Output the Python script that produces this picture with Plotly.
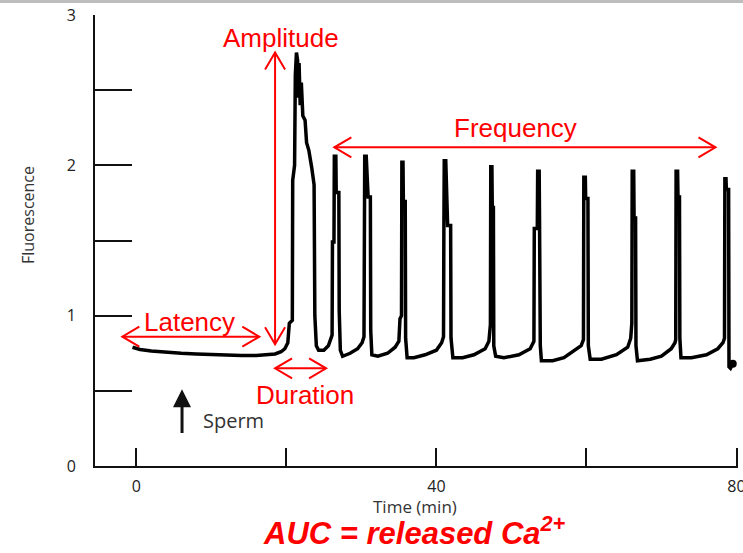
import plotly.graph_objects as go

# ---------------- data ----------------
time_min = [-0.5, 0.5, 2.0, 4.0, 6.0, 8.0, 10.0, 12.0, 14.0, 16.0, 17.5, 18.5, 19.3, 19.8,
            20.2, 20.4, 20.8, 20.85, 21.1, 21.2, 21.35, 21.5, 21.55, 21.7, 21.85, 22.0, 22.2,
            22.5, 22.7, 23.0, 23.4, 23.7, 23.8, 24.0, 24.3, 25.0, 25.6, 25.9, 26.1, 26.15,
            26.35, 26.4, 26.6, 26.65, 27.0, 27.05, 27.2, 27.5, 28.5, 29.5, 30.1, 30.35, 30.4,
            30.45, 30.65, 30.7, 30.9, 31.2, 31.25, 31.4, 32.2, 33.5, 34.5, 35.0, 35.15, 35.35,
            35.4, 35.55, 35.6, 35.85, 35.9, 36.1, 37.0, 38.5, 40.0, 40.7, 40.95, 41.0, 41.05,
            41.25, 41.3, 41.5, 41.9, 41.95, 42.2, 43.5, 45.0, 46.5, 47.0, 47.1, 47.2, 47.25,
            47.4, 47.45, 47.6, 47.65, 47.9, 49.0, 51.0, 52.5, 53.0, 53.05, 53.45, 53.5, 53.7,
            53.75, 53.85, 54.0, 55.5, 57.0, 58.5, 59.3, 59.6, 59.65, 59.85, 59.9, 60.2, 60.25,
            60.5, 62.0, 64.0, 65.5, 65.9, 65.95, 66.05, 66.1, 66.3, 66.35, 66.55, 66.6, 66.8,
            68.5, 70.0, 71.3, 71.8, 71.9, 71.95, 72.15, 72.2, 72.4, 72.45, 72.6, 74.0, 76.0,
            77.5, 78.2, 78.4, 78.45, 78.6, 78.65, 78.95, 79.0, 79.2, 79.5]
fluor = [0.79, 0.775, 0.765, 0.755, 0.75, 0.745, 0.74, 0.74, 0.735, 0.735, 0.74, 0.745, 0.76, 0.78,
         0.82, 0.95, 0.97, 1.9, 2.0, 2.6, 2.75, 2.7, 2.45, 2.68, 2.4, 2.55, 2.33,
         2.3, 2.15, 2.1, 1.98, 1.87, 1.0, 0.8, 0.77, 0.77, 0.8, 0.84, 0.87, 1.49,
         1.49, 2.06, 2.06, 1.82, 1.82, 1.03, 0.77, 0.73, 0.75, 0.78, 0.82, 0.86, 1.78,
         2.06, 2.06, 1.98, 1.79, 1.79, 0.9, 0.74, 0.73, 0.75, 0.79, 0.83, 0.98, 1.0,
         2.02, 2.02, 1.76, 1.76, 0.85, 0.72, 0.72, 0.74, 0.77, 0.82, 0.86, 1.6, 2.03,
         2.03, 1.91, 1.6, 1.6, 0.85, 0.72, 0.72, 0.74, 0.78, 0.83, 0.93, 0.94, 1.99,
         1.99, 1.72, 1.72, 0.8, 0.73, 0.72, 0.74, 0.78, 0.83, 1.58, 1.58, 1.96, 1.96,
         1.62, 0.8, 0.70, 0.70, 0.72, 0.77, 0.80, 0.84, 1.92, 1.92, 1.78, 1.78, 0.8,
         0.71, 0.71, 0.74, 0.79, 0.85, 0.95, 0.95, 1.96, 1.96, 1.65, 1.65, 0.8, 0.70,
         0.71, 0.73, 0.78, 0.82, 0.84, 1.96, 1.96, 1.79, 1.79, 0.85, 0.72, 0.72, 0.74,
         0.78, 0.82, 0.85, 1.91, 1.91, 1.84, 1.84, 0.66, 0.65, 0.68]

x_tick_vals = [0, 20, 40, 60, 80]
x_tick_text = ["0", "", "40", "", "80"]
y_tick_vals = [0, 0.5, 1, 1.5, 2, 2.5, 3]
y_tick_text = ["0", "", "1", "", "2", "", "3"]

# ---------------- layout geometry ----------------
W, H = 743, 553
M = dict(l=95, r=5, t=15, b=87)
X_RANGE = [-5.5, 80.2]
Y_RANGE = [0, 3]
PW = W - M["l"] - M["r"]
PH = H - M["t"] - M["b"]
XPX = (X_RANGE[1] - X_RANGE[0]) / PW   # data units per pixel
YPX = (Y_RANGE[1] - Y_RANGE[0]) / PH

RED = "#ff0000"
shapes = []
annotations = []


def head(tx, ty, dx, dy, back=17, side=10):
    """open V arrow head at tip (tx, ty); (dx, dy) unit pixel direction tail->tip"""
    px, py = -dy, dx
    p1 = (tx + (-back * dx + side * px) * XPX, ty + (-back * dy + side * py) * YPX)
    p2 = (tx + (-back * dx - side * px) * XPX, ty + (-back * dy - side * py) * YPX)
    shapes.append(dict(type="path", xref="x", yref="y",
                       path=f"M {p1[0]},{p1[1]} L {tx},{ty} L {p2[0]},{p2[1]}",
                       line=dict(color=RED, width=2)))


def double_arrow(x0, y0, x1, y1):
    shapes.append(dict(type="line", xref="x", yref="y", x0=x0, y0=y0, x1=x1, y1=y1,
                       line=dict(color=RED, width=2)))
    ddx = (x1 - x0) / XPX
    ddy = (y1 - y0) / YPX
    n = (ddx ** 2 + ddy ** 2) ** 0.5
    ux, uy = ddx / n, ddy / n
    head(x1, y1, ux, uy)
    head(x0, y0, -ux, -uy)


double_arrow(18.5, 0.81, 18.5, 2.75)     # amplitude
double_arrow(26.4, 2.12, 77.2, 2.12)     # frequency
double_arrow(-1.86, 0.86, 16.4, 0.86)    # latency
double_arrow(18.5, 0.65, 25.3, 0.65)     # duration

red_font = dict(family="Liberation Sans, Arial, sans-serif", size=26, color=RED)
for txt, x, y in [("Amplitude", 19.3, 2.85), ("Frequency", 50.6, 2.25),
                  ("Latency", 7.06, 0.96), ("Duration", 22.5, 0.47)]:
    annotations.append(dict(x=x, y=y, xref="x", yref="y", text=txt, showarrow=False,
                            font=red_font, xanchor="center", yanchor="middle"))

# sperm arrow + label
annotations.append(dict(x=6.1, y=0.51, ax=6.1, ay=0.21, xref="x", yref="y", axref="x", ayref="y",
                        text="", showarrow=True, arrowhead=2, arrowsize=1.2, arrowwidth=3,
                        arrowcolor="#111111"))
annotations.append(dict(x=8.65, y=0.30, xref="x", yref="y", text="Sperm", showarrow=False,
                        font=dict(family="Open Sans, sans-serif", size=20, color="#333333"),
                        xanchor="left", yanchor="middle"))

# axis titles
annotations.append(dict(x=(28 - M["l"]) / PW, y=(466 - 215) / PH, xref="paper", yref="paper",
                        text="Fluorescence", textangle=-90, showarrow=False,
                        font=dict(family="Open Sans, sans-serif", size=16, color="#333333"),
                        xanchor="center", yanchor="middle"))
annotations.append(dict(x=(415 - M["l"]) / PW, y=(466 - 507) / PH, xref="paper", yref="paper",
                        text="Time (min)", showarrow=False,
                        font=dict(family="Open Sans, sans-serif", size=17, color="#333333"),
                        xanchor="center", yanchor="middle"))
annotations.append(dict(x=(414 - M["l"]) / PW, y=(466 - 531) / PH, xref="paper", yref="paper",
                        text="<b><i>AUC = released Ca<sup>2+</sup></i></b>", showarrow=False,
                        font=dict(family="Liberation Sans, Arial, sans-serif", size=31, color=RED),
                        xanchor="center", yanchor="middle"))

# thin grey band at the very top of the slide
shapes.append(dict(type="rect", xref="paper", yref="paper", x0=-0.3, x1=1.3,
                   y0=(466 - 3) / PH, y1=(466 + 5) / PH, line=dict(width=0),
                   fillcolor="#bdbdbd", layer="above"))

fig = go.Figure()
fig.add_trace(go.Scatter(x=time_min, y=fluor, mode="lines",
                         line=dict(color="#000000", width=3.5), showlegend=False,
                         hoverinfo="skip"))
fig.add_trace(go.Scatter(x=time_min[-1:], y=fluor[-1:], mode="markers",
                         marker=dict(color="#000000", size=8), showlegend=False,
                         hoverinfo="skip"))

tickfont = dict(family="Open Sans, sans-serif", size=16, color="#222222")
fig.update_layout(
    width=W, height=H, margin=dict(M, autoexpand=False),
    paper_bgcolor="white", plot_bgcolor="white",
    shapes=shapes, annotations=annotations,
    xaxis=dict(range=X_RANGE, showline=True, linecolor="#111111", linewidth=2,
               ticks="inside", ticklen=18, tickwidth=2, tickcolor="#111111",
               tickvals=x_tick_vals, ticktext=x_tick_text, tickfont=tickfont,
               ticklabelstandoff=5, ticklabeloverflow="allow", automargin=False,
               showgrid=False, zeroline=False, fixedrange=True),
    yaxis=dict(range=Y_RANGE, showline=True, linecolor="#111111", linewidth=2,
               ticks="inside", ticklen=37, tickwidth=2, tickcolor="#111111",
               tickvals=y_tick_vals, ticktext=y_tick_text, tickfont=tickfont,
               ticklabelstandoff=14, ticklabeloverflow="allow", automargin=False,
               showgrid=False, zeroline=False, fixedrange=True),
)

fig.write_html("out.html", config={"displayModeBar": False},
               post_script="document.body.style.margin='0';document.body.style.overflow='hidden';")
